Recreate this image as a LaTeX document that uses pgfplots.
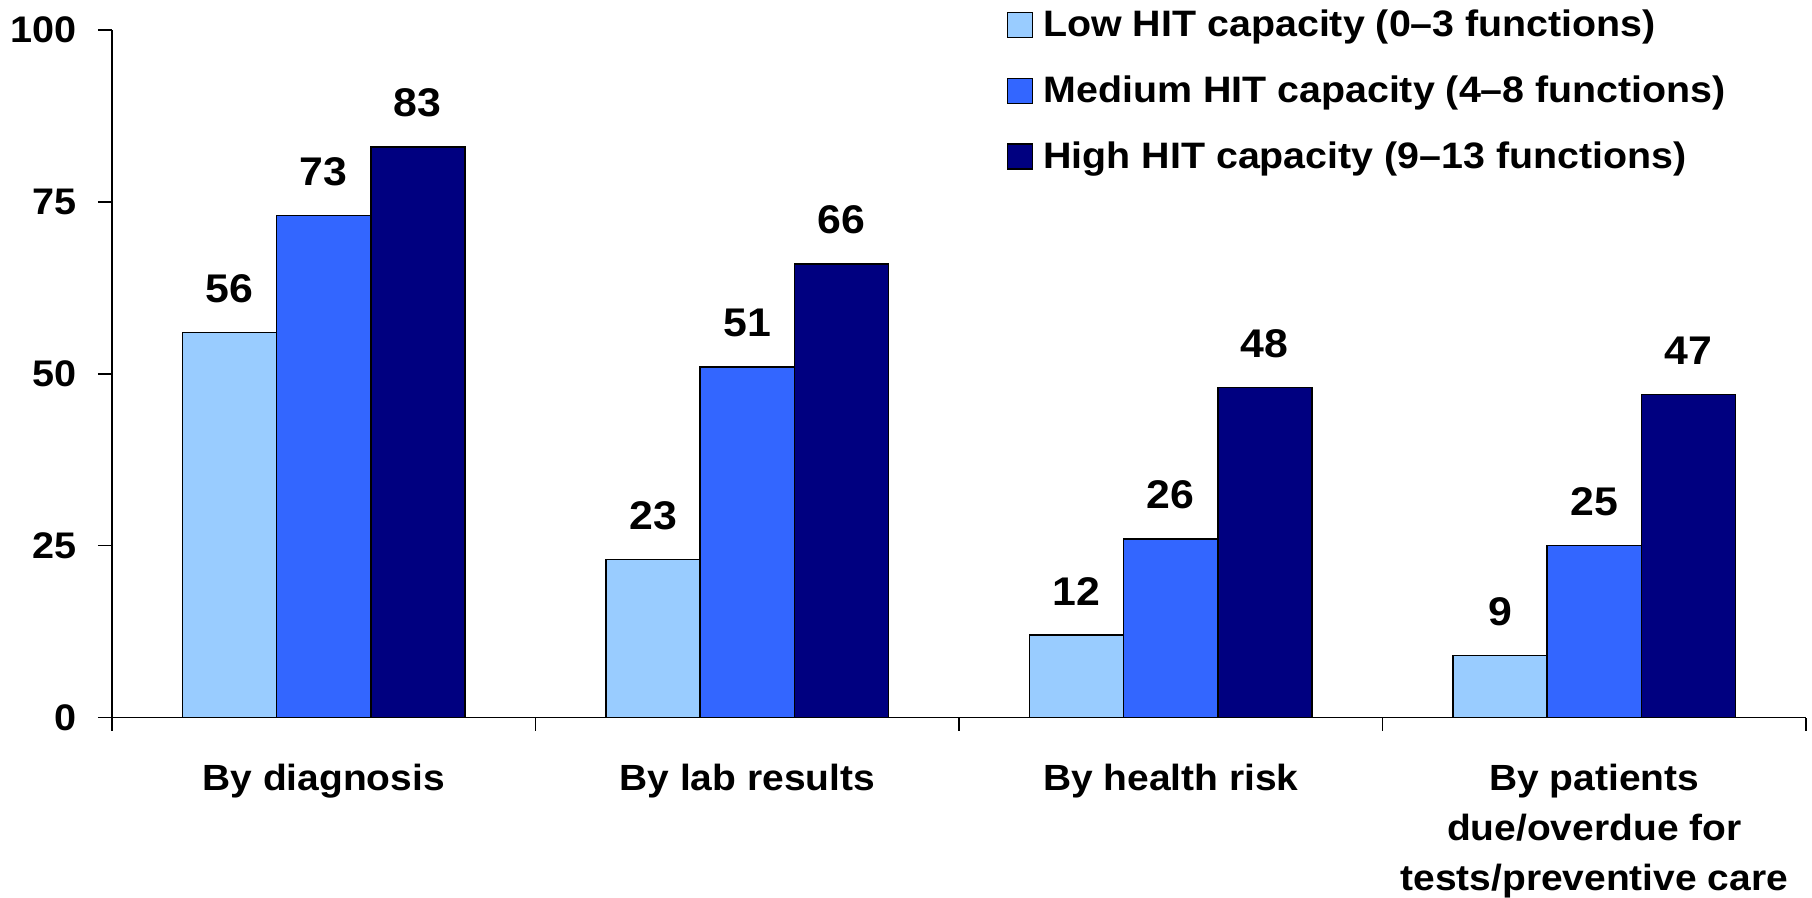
\documentclass[border=0pt]{standalone}
\usepackage{fontspec}
\setmainfont{Liberation Sans}[FakeStretch=1.07]
\usepackage{pgfplots}
\pgfplotsset{compat=1.18}

\definecolor{lowhit}{HTML}{99CCFF}
\definecolor{medhit}{HTML}{3366FF}
\definecolor{highhit}{HTML}{000080}

\begin{document}
\begin{tikzpicture}
\useasboundingbox (-56pt,-90.2pt) rectangle (850pt,358.8pt);
\begin{axis}[
  scale only axis,
  width=847pt, height=343.8pt,
  xmin=-0.5, xmax=3.5, ymin=0, ymax=100,
  axis lines*=left,
  axis line style={line width=0.75pt},
  every tick/.style={black, line width=0.75pt},
  tick align=outside,
  major tick length=7pt, minor tick length=6.5pt,
  /pgf/number format/assume math mode=true,
  ybar=0pt, bar width=0.222,
  xtick={0,1,2,3},
  major x tick style={draw=none},
  minor xtick={-0.5,0.5,1.5,2.5,3.5},
  xticklabels={By diagnosis, By lab results, By health risk,
    {By patients\\due/overdue for\\tests/preventive care}},
  xticklabel style={font=\fontsize{18.2}{25}\selectfont\bfseries,
    align=center, anchor=north, inner sep=0pt, yshift=-16pt},
  ytick={0,25,50,75,100},
  yticklabel style={font=\fontsize{18.5}{18.5}\selectfont\bfseries,
    xshift=-7pt},
  nodes near coords,
  every node near coord/.append style={font=\fontsize{20}{20}\selectfont\bfseries,
    anchor=base, yshift=15pt, black},
  legend style={at={(rel axis cs:0.528,1.035)}, anchor=north west,
    draw=none, fill=none, inner sep=0pt,
    font=\fontsize{18.4}{18.4}\selectfont\bfseries,
    row sep=14pt, column sep=3pt, cells={anchor=west}},
  legend image code/.code={%
    \draw[#1, line width=0.75pt] (0pt,-6.25pt) rectangle (12.5pt,6.25pt);},
  clip=false,
]
\addplot[fill=lowhit, draw=black, line width=0.75pt] coordinates {(0,56) (1,23) (2,12) (3,9)};
\addplot[fill=medhit, draw=black, line width=0.75pt] coordinates {(0,73) (1,51) (2,26) (3,25)};
\addplot[fill=highhit, draw=black, line width=0.75pt] coordinates {(0,83) (1,66) (2,48) (3,47)};
\legend{Low HIT capacity (0–3 functions), Medium HIT capacity (4–8 functions), High HIT capacity (9–13 functions)}
\end{axis}
\end{tikzpicture}
\end{document}
